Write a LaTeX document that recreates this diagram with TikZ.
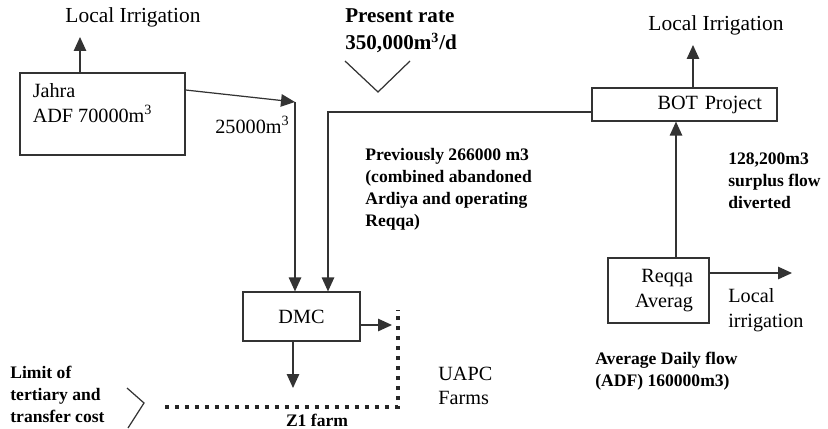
\documentclass[tikz,border=0pt]{standalone}
\usepackage{fontspec}
\setmainfont{Liberation Serif}
\usetikzlibrary{positioning,arrows.meta}

\begin{document}
\begin{tikzpicture}[x=0.02cm,y=-0.02cm,
        box/.style={draw=black!80,line width=0.7pt,inner sep=0pt,font=\fontsize{11.5}{14}\selectfont},
        flow/.style={draw=black!80,line width=0.7pt,-{Triangle[length=0.28cm,width=0.25cm]}},
        edge/.style={draw=black!80,line width=0.7pt},
        boundary/.style={draw=black!85,line width=0.08cm,dash pattern=on 0.08cm off 0.12cm},
        lbl/.style={font=\fontsize{11.5}{14}\selectfont,inner sep=0pt,align=left},
        note/.style={font=\fontsize{10}{12.5}\selectfont\bfseries,inner sep=0pt,align=left},
        big/.style={font=\fontsize{12}{15.4}\selectfont\bfseries,inner sep=0pt,align=left}]
    \useasboundingbox (0,0) rectangle (828,429);

    % Wells and plants
    \node[box,minimum width=3.3cm,minimum height=1.64cm] (jahra) at (102.5,114) {};
    \node[lbl,below right=0.22cm and 0.26cm of jahra.north west] (jahratext) {Jahra\\ADF 70000m\textsuperscript{3}};
    \node[box,minimum width=3.7cm,minimum height=0.66cm,text width=3.1cm,inner xsep=0.3cm,align=right] (bot) at (684.5,104.5) {BOT Project};
    \node[box,minimum width=2.02cm,minimum height=1.3cm,text width=1.38cm,inner xsep=0.32cm,align=right] (reqqa) at (658.5,290.5) {Reqqa\\Averag};
    \node[box,minimum width=2.34cm,minimum height=0.98cm] (dmc) at (301.5,316.5) {DMC};

    % Free ends and bends
    \coordinate (jahraout) at (80,37);
    \coordinate (jbend) at (295,102);
    \coordinate (bbend) at (328,112);
    \coordinate (botout) at (693,45);
    \coordinate (rq) at ([xshift=0.35cm]reqqa.north);
    \coordinate (reqqaout) at (792,273);
    \coordinate (dmcout) at (392,325);
    \coordinate (dmcdown) at (293,388);

    % Flows
    \draw[flow] (jahra.north -| jahraout) -- (jahraout);
    \draw[flow] ([yshift=0.48cm]jahra.east) -- (jbend);
    \draw[flow] (jbend) -- (jbend |- dmc.north);
    \draw[flow] (bot.west |- bbend) -- (bbend) -- (bbend |- dmc.north);
    \draw[flow] (bot.north -| botout) -- (botout);
    \draw[flow] (rq) -- (rq |- bot.south);
    \draw[flow] (reqqa.east |- reqqaout) -- (reqqaout);
    \draw[flow] (dmc.east |- dmcout) -- (dmcout);
    \draw[flow] (dmc.south -| dmcdown) -- (dmcdown);

    % Limits
    \draw[boundary] (165,407) -- (398,407) -- (398,310);
    \draw[edge] (345,61) -- (378,92) -- (410,61);
    \draw[edge] (127,388) -- (144,403) -- (128,428);

    % Labels
    \node[lbl,font=\fontsize{12.2}{14}\selectfont] (irrleft) at (133,17) {Local Irrigation};
    \node[lbl,font=\fontsize{12.2}{14}\selectfont] (irrright) at (716,25) {Local Irrigation};
    \node[big,anchor=west] (rate) at (345,31) {Present rate\\350,000m\textsuperscript{3}/d};
    \node[lbl,anchor=west] (jflow) at (215,125) {25000m\textsuperscript{3}};
    \node[note,anchor=west] (prev) at (365,189.5) {Previously 266000 m3\\(combined abandoned\\Ardiya and operating\\Reqqa)};
    \node[note,anchor=west] (surplus) at (728,181) {128,200m3\\surplus flow\\diverted};
    \node[lbl,anchor=west] (rirr) at (728,310) {Local\\irrigation};
    \node[note,anchor=west] (adf) at (595,371) {Average Daily flow\\(ADF) 160000m3)};
    \node[lbl,anchor=west] (uapc) at (438,386) {UAPC\\Farms};
    \node[note,anchor=west] (limit) at (10,394) {Limit of\\tertiary and\\transfer cost};
    \node[note] (zfarm) at (317,420) {Z1 farm};
\end{tikzpicture}
\end{document}
